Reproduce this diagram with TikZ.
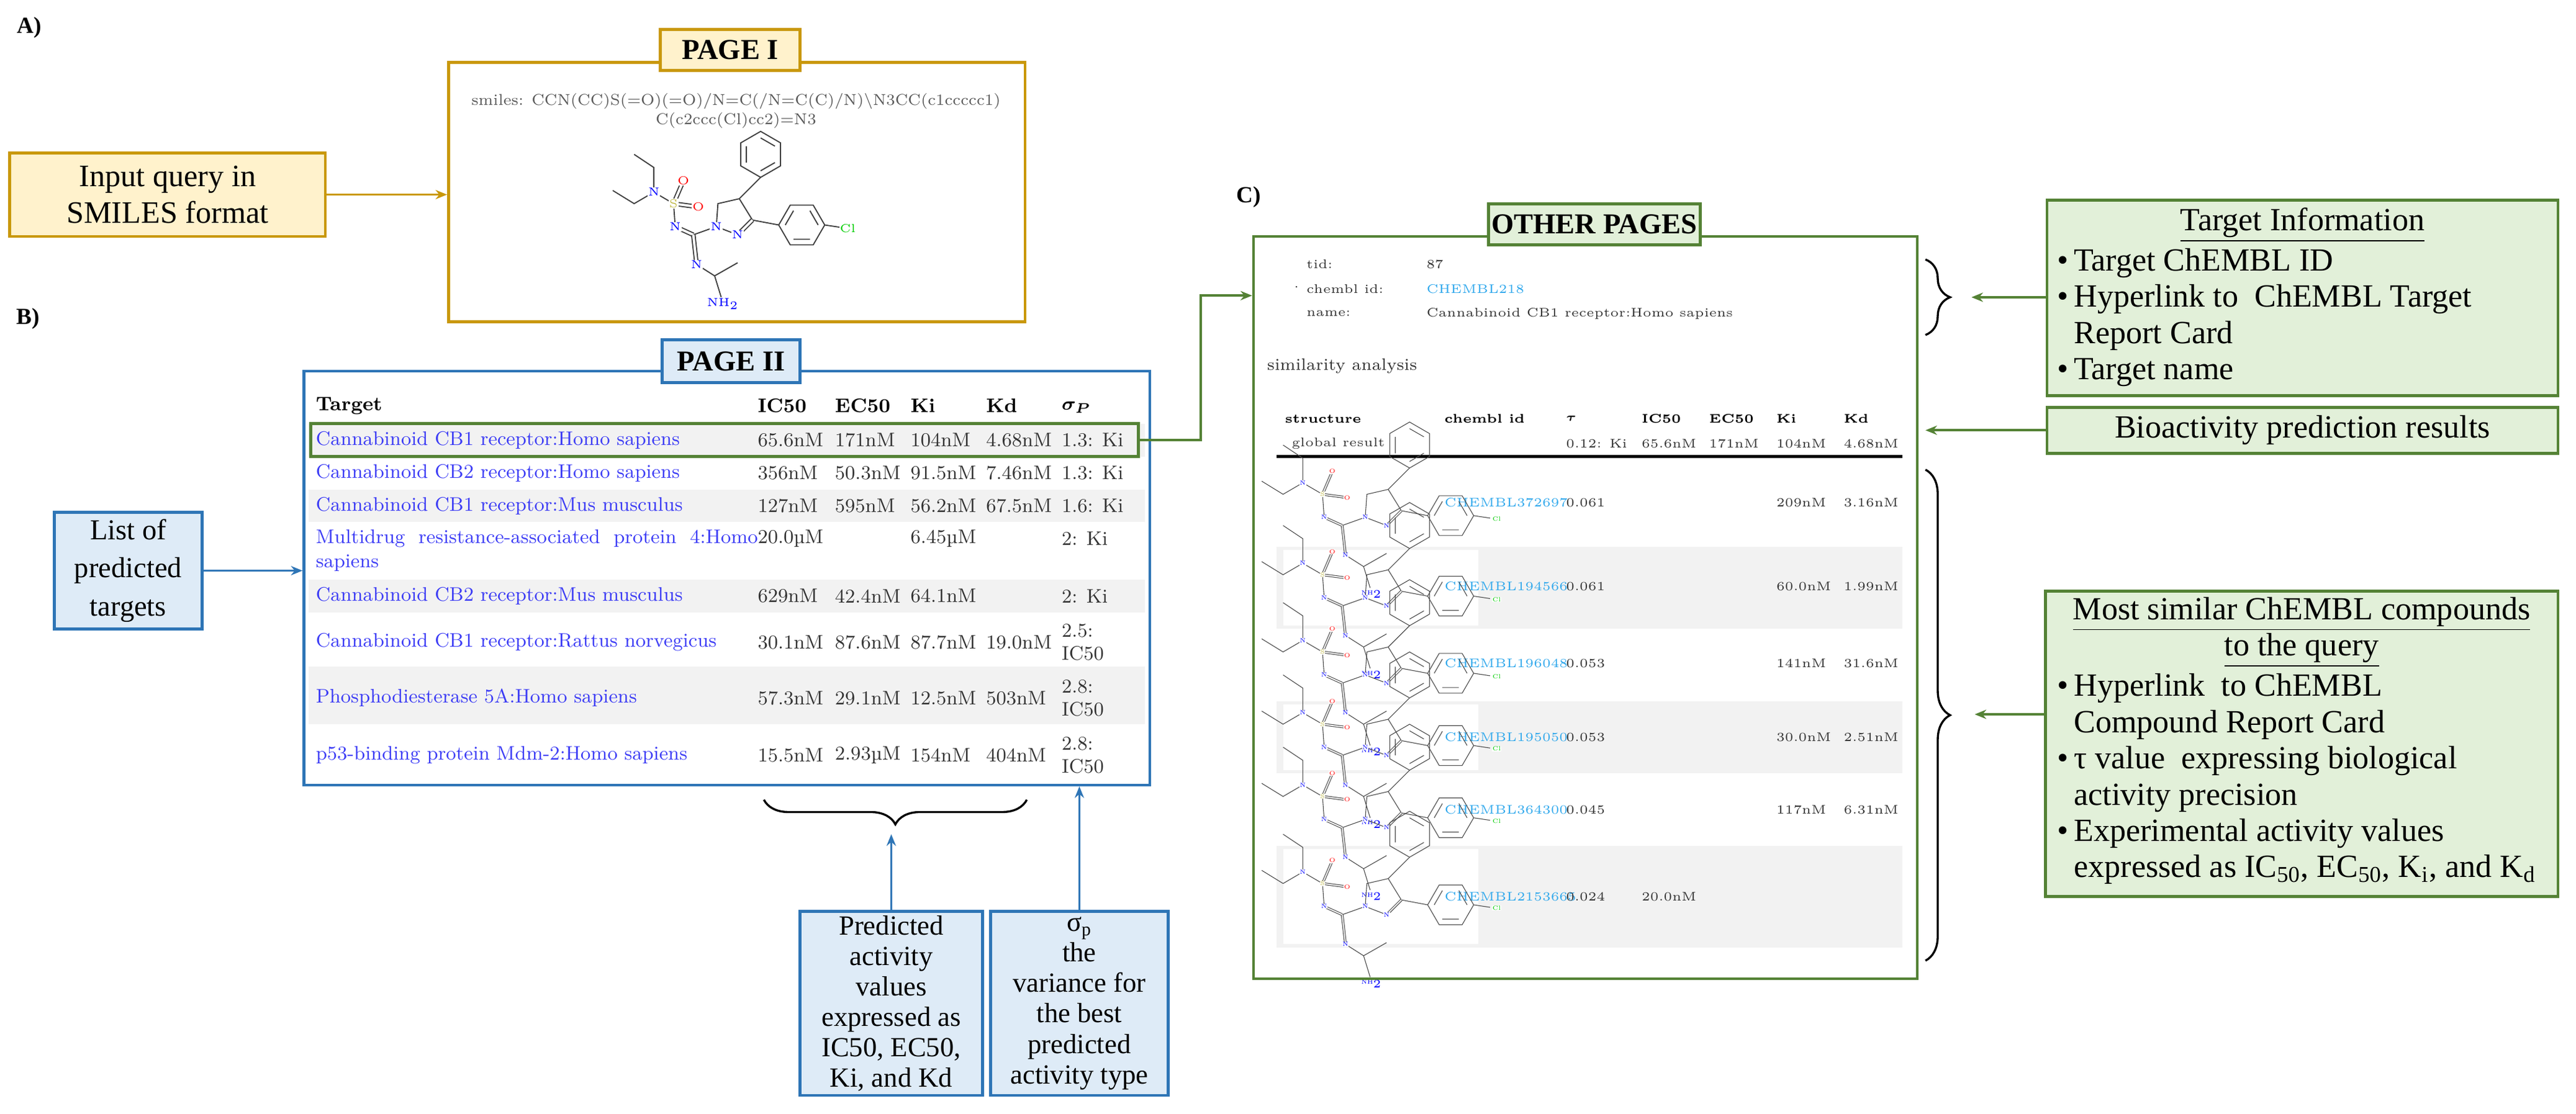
\documentclass[tikz,border=0pt]{standalone}
\usepackage{bm}
\usepackage{fontspec}
\newfontfamily\lab{Liberation Serif}
\usetikzlibrary{arrows.meta,fit,decorations.pathreplacing,calc}
\definecolor{yfill}{HTML}{FFF2CC}\definecolor{ydraw}{HTML}{C9980A}
\definecolor{bfill}{HTML}{DEEBF7}\definecolor{bdraw}{HTML}{2E75B6}
\definecolor{gfill}{HTML}{E2F0D9}\definecolor{gdraw}{HTML}{548235}
\definecolor{tlink}{HTML}{3C3CF5}\definecolor{clink}{HTML}{30A8EC}
\definecolor{rowsh}{HTML}{F2F2F2}\definecolor{val}{HTML}{333333}
\newcommand\Dp[1]{#1*0.025cm}
\newcommand\sigP{$\bm{\sigma_P}$}
\newcommand\tauB{$\bm{\tau}$}
\tikzset{
 bond/.style={line width=0.5pt,draw=black!75},
 dbl/.style={bond,double=white,double distance=1pt},
 atom/.style={font=\fontsize{5}{5}\selectfont,inner sep=0.3pt,fill=white},
 ybox/.style={draw=ydraw,fill=yfill,line width=1.3pt,inner sep=0pt,align=center,font=\lab\fontsize{13.5}{15.7}\selectfont},
 bbox/.style={draw=bdraw,fill=bfill,line width=1.3pt,inner sep=0pt,align=center,font=\lab\fontsize{12}{13.2}\selectfont},
 gbox/.style={draw=gdraw,fill=gfill,line width=1.3pt,inner sep=0pt},
 gtxt/.style={font=\lab\fontsize{14}{15.7}\selectfont,inner sep=0pt,align=left},
 plab/.style={line width=1.3pt,inner sep=0pt,font=\lab\bfseries\fontsize{12.5}{14}\selectfont},
 frame/.style={line width=1.2pt,inner sep=0pt},
 ptx/.style={font=\fontsize{8.5}{10}\selectfont,text=tlink,inner sep=0pt,anchor=west},
 pvx/.style={font=\fontsize{8.5}{10}\selectfont,text=val,inner sep=0pt,anchor=west,align=left},
 phx/.style={font=\bfseries\fontsize{8.5}{10}\selectfont,inner sep=0pt,anchor=west},
 otx/.style={font=\fontsize{5.4}{6.5}\selectfont,text=val,inner sep=0pt,anchor=west},
 ohx/.style={font=\bfseries\fontsize{5.4}{6.5}\selectfont,inner sep=0pt,anchor=west},
 conn/.style={line width=1pt,-{Stealth[length=5pt,width=4pt]}},
 brc/.style={line width=0.9pt,decorate,decoration={brace,amplitude=0.375cm}},
 mol/.pic={
  \draw[bond] (5,-11)--(18,-24);
  \draw[bond] (30.1,-31)--(18,-24)--(5.9,-31)--(5.9,-45)--(18,-52)--(30.1,-45)--cycle
    (26.7,-33)--(18,-28) (9.3,-33)--(9.3,-43) (18,-48)--(26.7,-43);
  \draw[bond] (57,5)--(50,17.1)--(36,17.1)--(29,5)--(36,-7.1)--(50,-7.1)--cycle
    (48,13.7)--(38,13.7) (33,5)--(38,-3.7) (48,-3.7)--(53,5);
  \draw[bond] (13,2)--(29,5) (57,5)--(67,6.5);
  \draw[bond] (5,-11)--(-8,-8)--(-9,6)--(4,11) (13,2)--(5,-11);
  \draw[dbl] (4,11)--(13,2);
  \draw[bond] (-9,6)--(-23,11);
  \draw[dbl] (-23,11)--(-34,6);
  \draw[bond] (-34,6)--(-35,-8)--(-47,-15)--(-47,-30)--(-59,-38) (-47,-15)--(-59,-8)--(-72,-16);
  \draw[dbl] (-35,-8)--(-29,-22) (-35,-8)--(-20,-6) (-23,11)--(-21,29);
  \draw[bond] (-21,29)--(-10,36)--(4,28) (-10,36)--(-6,49);
  \node[atom,text=blue] (-a1) at (-9,6) {N};
  \node[atom,text=blue] (-a2) at (4,11) {N};
  \node[atom,text=blue] (-a3) at (-34,6) {N};
  \node[atom,text=black!30!yellow] (-a4) at (-35,-8) {S};
  \node[atom,text=red] (-a5) at (-29,-22) {O};
  \node[atom,text=red] (-a6) at (-20,-6) {O};
  \node[atom,text=blue] (-a7) at (-47,-15) {N};
  \node[atom,text=blue] (-a8) at (-21,29) {N};
  \node[atom,text=blue] (-a9) at (-5,53) {NH$_2$};
  \node[atom,text=green!80!black] (-a10) at (71,7) {Cl};
 }
}
\newcommand\prow[8]{%
 \node[ptx] (r#1t) at (192,#2) {#3};
 \if\relax\detokenize{#4}\relax\else\node[pvx] (r#1a) at (461,#2) {#4};\fi
 \if\relax\detokenize{#5}\relax\else\node[pvx] (r#1b) at (508,#2) {#5};\fi
 \if\relax\detokenize{#6}\relax\else\node[pvx] (r#1c) at (554,#2) {#6};\fi
 \if\relax\detokenize{#7}\relax\else\node[pvx] (r#1d) at (600,#2) {#7};\fi
 \node[pvx] (r#1s) at (646,#2) {#8};}
\newcommand\orow[7]{%
 \node[otx,text=clink] (o#1c) at (879,#2) {#3};
 \node[otx] (o#1t) at (953,#2) {#4};
 \if\relax\detokenize{#5}\relax\else\node[otx] (o#1a) at (999,#2) {#5};\fi
 \if\relax\detokenize{#6}\relax\else\node[otx] (o#1k) at (1081,#2) {#6};\fi
 \if\relax\detokenize{#7}\relax\else\node[otx] (o#1d) at (1122,#2) {#7};\fi}
\begin{document}
\begin{tikzpicture}[x=0.025cm,y=-0.025cm]
\useasboundingbox (0,0) rectangle (1568,678);
\node[font=\lab\bfseries\fontsize{10}{12}\selectfont] (lA) at (18,17) {A)};
\node[font=\lab\bfseries\fontsize{10}{12}\selectfont] (lB) at (17,194) {B)};
\node[font=\lab\bfseries\fontsize{10}{12}\selectfont] (lC) at (760,120) {C)};
% ---------- PAGE I
\node[frame,draw=ydraw,fit={(273,38) (624,196)}] (p1) {};
\node[plab,draw=ydraw,fill=yfill,minimum width=\Dp{85},minimum height=\Dp{25}] (p1l) at (444.5,30.5) {PAGE I};
\node[font=\fontsize{6.8}{8.2}\selectfont,text=black!65,align=center] (smi) at (448,67.5) {smiles: CCN(CC)S(=O)(=O)/N=C(/N=C(C)/N)\textbackslash N3CC(c1ccccc1)\\C(c2ccc(Cl)cc2)=N3};
\pic (q) at (445,132) {mol};
\node[ybox,minimum width=\Dp{192},minimum height=\Dp{51}] (inp) at (102,118.5) {Input query in\\SMILES format};
\draw[conn,draw=ydraw] (inp.east) -- (inp.east -| p1.west);
% ---------- PAGE II
\fill[rowsh] (188,258) rectangle (697,278);
\fill[rowsh] (188,298) rectangle (697,318);
\fill[rowsh] (188,353) rectangle (697,373);
\fill[rowsh] (188,406) rectangle (697,441);
\node[phx] (h0) at (192,247) {Target};
\node[phx] (h1) at (461,247) {IC50};
\node[phx] (h2) at (508,247) {EC50};
\node[phx] (h3) at (554,247) {Ki};
\node[phx] (h4) at (600,247) {Kd};
\node[phx] (h5) at (646,248) {\sigP};
\prow{1}{268}{Cannabinoid CB1 receptor:Homo sapiens}{65.6nM}{171nM}{104nM}{4.68nM}{1.3: Ki}
\prow{2}{288}{Cannabinoid CB2 receptor:Homo sapiens}{356nM}{50.3nM}{91.5nM}{7.46nM}{1.3: Ki}
\prow{3}{308}{Cannabinoid CB1 receptor:Mus musculus}{127nM}{595nM}{56.2nM}{67.5nM}{1.6: Ki}
\prow{4}{328}{Multidrug\ \ resistance-associated\ \ protein\ \ 4:Homo}{20.0µM}{}{6.45µM}{}{2: Ki}
\node[ptx] (r4u) at (192,343) {sapiens};
\prow{5}{363}{Cannabinoid CB2 receptor:Mus musculus}{629nM}{42.4nM}{64.1nM}{}{2: Ki}
\prow{6}{391}{Cannabinoid CB1 receptor:Rattus norvegicus}{30.1nM}{87.6nM}{87.7nM}{19.0nM}{2.5:\\IC50}
\prow{7}{425}{Phosphodiesterase 5A:Homo sapiens}{57.3nM}{29.1nM}{12.5nM}{503nM}{2.8:\\IC50}
\prow{8}{460}{p53-binding protein Mdm-2:Homo sapiens}{15.5nM}{2.93µM}{154nM}{404nM}{2.8:\\IC50}
\node[draw=gdraw,line width=1.4pt,inner sep=0pt,fit={(189,258) (693,278)}] (hl) {};
\node[frame,draw=bdraw,fit={(185,226) (700,478)}] (p2) {};
\node[plab,draw=bdraw,fill=bfill,minimum width=\Dp{84},minimum height=\Dp{26}] (p2l) at (445,220) {PAGE II};
\node[bbox,font=\lab\fontsize{12.5}{16.5}\selectfont,minimum width=\Dp{90},minimum height=\Dp{71}] (lst) at (78,347.5) {List of\\predicted\\targets};
\draw[conn,draw=bdraw] (lst.east) -- (lst.east -| p2.west);
\draw[brc] (625,487) -- (465,487);
\coordinate (bt) at (542.5,508);
\node[bbox,minimum width=\Dp{111},minimum height=\Dp{112}] (pred) at (542.5,611) {Predicted\\activity\\values\\expressed as\\IC50, EC50,\\Ki, and Kd};
\node[bbox,minimum width=\Dp{108},minimum height=\Dp{112}] (sig) at (657,611) {σ\textsubscript{p}\\the\\variance for\\the best\\predicted\\activity type};
\draw[conn,draw=bdraw] (pred.north) -- (bt);
\draw[conn,draw=bdraw] (sig.north) -- (sig.north |- p2.south);
% ---------- OTHER PAGES
\fill[rowsh] (777,333) rectangle (1158,383);
\fill[rowsh] (777,427) rectangle (1158,471);
\fill[rowsh] (777,515) rectangle (1158,577);
\fill[white] (781,335) rectangle (900,381);
\fill[white] (781,429) rectangle (900,469);
\fill[white] (781,517) rectangle (900,575);
\node[otx] (i0) at (785,176) {·};
\node[otx] (i1) at (795,161) {tid:};
\node[otx] (i2) at (868,161) {87};
\node[otx] (i3) at (795,176) {chembl id:};
\node[otx,text=clink] (i4) at (868,176) {CHEMBL218};
\node[otx] (i5) at (795,191) {name:};
\node[otx] (i6) at (868,191) {Cannabinoid CB1 receptor:Homo sapiens};
\node[otx,font=\fontsize{7.2}{8}\selectfont] (sim) at (771,223) {similarity analysis};
\node[ohx] (g0) at (782,255) {structure};
\node[ohx] (g1) at (879,255) {chembl id};
\node[ohx] (g2) at (953,255) {\tauB};
\node[ohx] (g3) at (999,255) {IC50};
\node[ohx] (g4) at (1040,255) {EC50};
\node[ohx] (g5) at (1081,255) {Ki};
\node[ohx] (g6) at (1122,255) {Kd};
\node[otx] (v0) at (786,270) {global result};
\node[otx] (v1) at (953,270) {0.12: Ki};
\node[otx] (v2) at (999,270) {65.6nM};
\node[otx] (v3) at (1040,270) {171nM};
\node[otx] (v4) at (1081,270) {104nM};
\node[otx] (v5) at (1122,270) {4.68nM};
\draw[line width=1.3pt] (777,278) -- (1158,278);
\orow{1}{306}{CHEMBL372697}{0.061}{}{209nM}{3.16nM}
\orow{2}{357}{CHEMBL194566}{0.061}{}{60.0nM}{1.99nM}
\orow{3}{404}{CHEMBL196048}{0.053}{}{141nM}{31.6nM}
\orow{4}{449}{CHEMBL195050}{0.053}{}{30.0nM}{2.51nM}
\orow{5}{493}{CHEMBL364300}{0.045}{}{117nM}{6.31nM}
\orow{6}{546}{CHEMBL2153665}{0.024}{20.0nM}{}{}
\begin{scope}[atom/.style={font=\fontsize{2.6}{2.6}\selectfont,inner sep=0.15pt,fill=white},
  bond/.style={line width=0.3pt,draw=black!70},dbl/.style={bond,double=white,double distance=0.5pt}]
\begin{scope}[shift={(840,309)},scale=0.46] \pic (m1) at (0,0) {mol}; \end{scope}
\begin{scope}[shift={(840,358)},scale=0.46] \pic (m2) at (0,0) {mol}; \end{scope}
\begin{scope}[shift={(840,405)},scale=0.46] \pic (m3) at (0,0) {mol}; \end{scope}
\begin{scope}[shift={(840,449)},scale=0.42] \pic (m4) at (0,0) {mol}; \end{scope}
\begin{scope}[shift={(840,493)},xscale=-0.44,yscale=0.44] \pic (m5) at (0,0) {mol}; \end{scope}
\begin{scope}[shift={(840,546)},scale=0.5,rotate=20] \pic (m6) at (0,0) {mol}; \end{scope}
\end{scope}
\node[frame,draw=gdraw,fit={(763,144) (1167,596)}] (p3) {};
\node[plab,draw=gdraw,fill=gfill,minimum width=\Dp{129},minimum height=\Dp{25}] (p3l) at (970.5,136.5) {OTHER PAGES};
\coordinate (c1) at (731,268);
\coordinate (c2) at (731,180);
\draw[conn,draw=gdraw] (hl.east) -- (c1) -- (c2) -- (c2 -| p3.west);
% right side boxes
\node[gbox,fit={(1246,122) (1557,241)}] (tgt) {};
\node[gtxt] (tgt0) at (1401.5,137) {\underline{Target Information}};
\node[gtxt,anchor=north west] (tgt1) at (1252,151) {•\,Target ChEMBL ID\\•\,Hyperlink to~ ChEMBL Target\\\hphantom{•\,}Report Card\\•\,Target name};
\node[gbox,minimum width=\Dp{311},minimum height=\Dp{28},font=\lab\fontsize{14}{15.7}\selectfont] (bio) at (1401.5,262) {Bioactivity prediction results};
\node[gbox,fit={(1245,360) (1557,546)}] (most) {};
\node[gtxt,align=center] (most0) at (1401,385) {\underline{Most similar ChEMBL compounds}\\\underline{to the query}};
\node[gtxt,anchor=north west] (most1) at (1252,410) {•\,Hyperlink~ to ChEMBL\\\hphantom{•\,}Compound Report Card\\•\,τ value~ expressing biological\\\hphantom{•\,}activity precision\\•\,Experimental activity values\\\hphantom{•\,}expressed as IC\textsubscript{50}, EC\textsubscript{50}, K\textsubscript{i}, and K\textsubscript{d}};
\draw[brc] (1172,158) -- (1172,204);
\draw[brc] (1172,286) -- (1172,585);
\coordinate (tb) at (1200,181);
\coordinate (ba) at (1172,262);
\coordinate (mb) at (1202,435);
\draw[conn,draw=gdraw] (tgt.west |- tb) -- (tb);
\draw[conn,draw=gdraw] (bio.west) -- (ba);
\draw[conn,draw=gdraw] (most.west |- mb) -- (mb);
\end{tikzpicture}
\end{document}
